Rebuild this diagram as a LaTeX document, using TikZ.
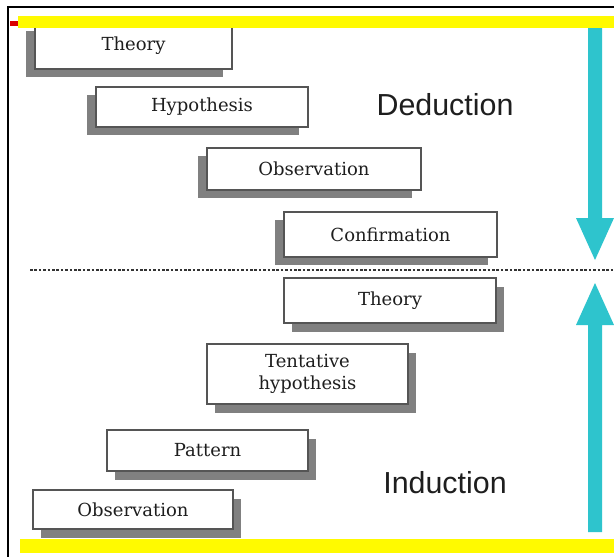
\documentclass[tikz,border=0pt]{standalone}
\usepackage{fontspec}
\setmainfont{DejaVu Serif}
\newfontfamily\labelfont{Liberation Sans}
\usetikzlibrary{shadows}
\definecolor{teal1}{RGB}{46,196,205}
\definecolor{yel}{RGB}{255,250,0}
\definecolor{shadowgray}{RGB}{128,128,128}
\definecolor{boxline}{RGB}{85,85,85}
\definecolor{txt}{RGB}{30,30,30}
\tikzset{
  boxbase/.style={draw=boxline, line width=0.9pt, fill=white, inner sep=0pt,
    font=\fontsize{13.5}{17}\selectfont, text=txt, align=center},
  dbox/.style={boxbase, drop shadow={shadow xshift=-6.5pt, shadow yshift=-6pt, opacity=1, fill=shadowgray}},
  ibox/.style={boxbase, drop shadow={shadow xshift=6pt, shadow yshift=-6.5pt, opacity=1, fill=shadowgray}},
  biglabel/.style={font=\labelfont\fontsize{22.8}{26}\selectfont, text=txt, anchor=base},
  yelbar/.style={fill=yel, draw=none},
  bigarrow/.style={fill=teal1, draw=none},
}
\begin{document}
\begin{tikzpicture}[x=0.75pt, y=-0.75pt]
\useasboundingbox (0,0) rectangle (614,557);
\fill[white] (0,0) rectangle (614,557);
% frame
\draw[black, line width=1.5pt] (614,7) -- (8,7) -- (8,557);
% deduction boxes
\node[dbox, minimum width=197*0.75pt, minimum height=46*0.75pt] (dtheory) at (133.5,46) {Theory};
\node[dbox, minimum width=212*0.75pt, minimum height=40*0.75pt] (dhyp) at (202,107) {Hypothesis};
\node[dbox, minimum width=214*0.75pt, minimum height=42*0.75pt] (dobs) at (314,169) {Observation};
\node[dbox, minimum width=213*0.75pt, minimum height=45*0.75pt] (dconf) at (390.5,234.5) {Confirmation};
% induction boxes
\node[ibox, minimum width=212*0.75pt, minimum height=45*0.75pt] (itheory) at (390,300.5) {Theory};
\node[ibox, minimum width=201*0.75pt, minimum height=60*0.75pt] (itent) at (307.5,374) {Tentative\\hypothesis};
\node[ibox, minimum width=201*0.75pt, minimum height=41*0.75pt] (ipat) at (207.5,450.5) {Pattern};
\node[ibox, minimum width=200*0.75pt, minimum height=39*0.75pt] (iobs) at (133,509.5) {Observation};
% labels
\node[biglabel] (ded) at (445,115) {Deduction};
\node[biglabel] (ind) at (445,493) {Induction};
% dotted separator
\coordinate (sepL) at (30,270);
\coordinate (sepR) at (614,270);
\draw[line width=2pt, color=black!80, dash pattern=on 2pt off 1.3pt] (sepL) -- (sepR);
% arrows
\fill[bigarrow] (588,27) -- (602,27) -- (602,218) -- (614,218) -- (595,260) -- (576,218) -- (588,218) -- cycle;
\fill[bigarrow] (588,532) -- (602,532) -- (602,325) -- (614,325) -- (595,283) -- (576,325) -- (588,325) -- cycle;
% yellow bars
\fill[yelbar] (18,16) rectangle (614,28);
\fill[yelbar] (20,539) rectangle (614,553);
% red mark
\fill[red!85!black] (10,21) rectangle (18,26);
\end{tikzpicture}
\end{document}
